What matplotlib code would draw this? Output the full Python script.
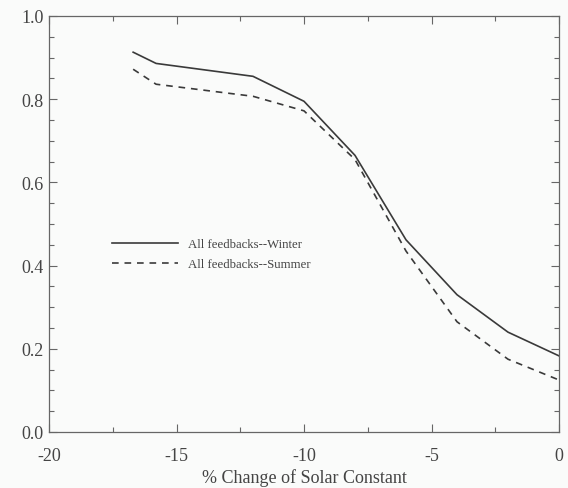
import matplotlib
matplotlib.use("Agg")
import matplotlib.pyplot as plt
from matplotlib.ticker import MultipleLocator

x_vals = [-16.7, -15.8, -12.0, -10.0, -8.0, -6.0, -4.0, -2.0, 0.0]
winter = [0.913, 0.886, 0.855, 0.795, 0.665, 0.462, 0.330, 0.240, 0.183]
summer = [0.872, 0.836, 0.807, 0.772, 0.655, 0.435, 0.265, 0.175, 0.125]
labels = ["All feedbacks--Winter", "All feedbacks--Summer"]

plt.rcParams['font.family'] = ['Liberation Serif', 'DejaVu Serif']
ink = '#3a3a3a'

fig = plt.figure(figsize=(5.68, 4.89), dpi=100)
fig.patch.set_facecolor('#fafbfa')
ax = fig.add_axes([49/568, 1 - 433/489, 510/568, 416/489])
ax.set_facecolor('#fafbfa')

ax.plot(x_vals, winter, color=ink, lw=1.2, ls='-', label=labels[0])
ax.plot(x_vals, summer, color=ink, lw=1.2, ls=(0, (4, 3.5)), label=labels[1])

ax.set_xlim(-20, 0)
ax.set_ylim(0, 1.0)
ax.xaxis.set_major_locator(MultipleLocator(5))
ax.xaxis.set_minor_locator(MultipleLocator(2.5))
ax.yaxis.set_major_locator(MultipleLocator(0.2))
ax.yaxis.set_minor_locator(MultipleLocator(0.05))
ax.xaxis.set_major_formatter(plt.FuncFormatter(lambda v, p: f"{v:.0f}"))
ax.yaxis.set_major_formatter(plt.FuncFormatter(lambda v, p: f"{v:.1f}"))

ax.tick_params(which='both', direction='in', top=True, right=True,
               colors='#666666', labelcolor='#444444', width=0.8)
ax.tick_params(which='major', length=6, labelsize=13)
ax.tick_params(axis='x', which='major', pad=11)
ax.tick_params(axis='y', which='major', pad=4)
ax.tick_params(which='minor', length=3.5)
for s in ax.spines.values():
    s.set_color('#666666')
    s.set_linewidth(0.9)

ax.set_xlabel("% Change of Solar Constant", fontsize=13, color='#444444', labelpad=3)

leg = ax.legend(loc='upper left', bbox_to_anchor=(0.1, 0.494), frameon=False,
                fontsize=9.2, handlelength=5.2, handletextpad=0.8,
                labelspacing=0.65)
for t in leg.get_texts():
    t.set_color('#444444')

fig.savefig("out.png", dpi=100, facecolor=fig.get_facecolor())
